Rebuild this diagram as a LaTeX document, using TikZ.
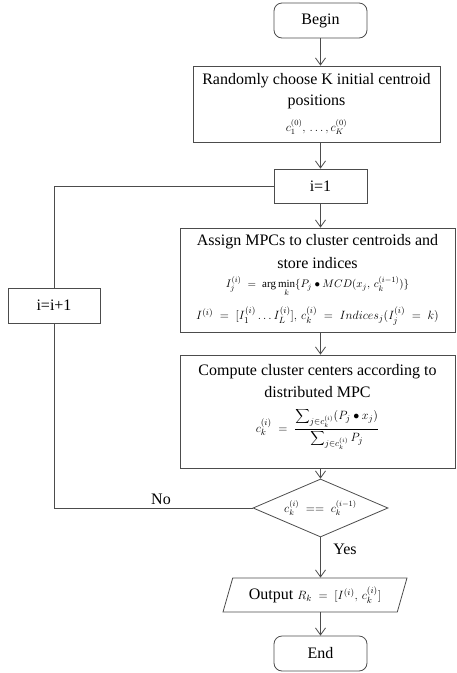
\documentclass[tikz,border=0pt]{standalone}
\usepackage{fontspec}
\setmainfont{Liberation Serif}
\usetikzlibrary{arrows.meta,shapes.geometric}
\tikzset{
  line/.style={draw=black!70, line width=0.8pt},
  arr/.style={line, -{Straight Barb[length=7pt,width=10pt]}},
  term/.style={line, rounded corners=8pt, minimum width=93pt, minimum height=35pt, inner sep=0pt, font=\fontsize{16}{18}\selectfont},
  proc/.style={line, inner sep=0pt, align=center, font=\fontsize{16}{18}\selectfont},
  dec/.style={line, diamond, aspect=2.3, minimum width=135pt, minimum height=58pt, inner sep=0pt},
  io/.style={line, trapezium, trapezium left angle=60, trapezium right angle=120, trapezium stretches body, minimum width=184pt, minimum height=34pt, inner sep=0pt, font=\fontsize{16}{18}\selectfont},
  lbl/.style={font=\fontsize{16}{18}\selectfont, inner sep=0pt}
}
\begin{document}
\begin{tikzpicture}[x=1pt,y=-1pt]
\useasboundingbox (0,0) rectangle (457,673);
\node[term] (begin) at (320.5,20.5) {Begin};
\node[proc, minimum width=247pt, minimum height=76pt] (box1) at (316.5,104) {};
\node[lbl] (t1a) at (316.5,81) {Randomly choose K initial centroid};
\node[lbl] (t1b) at (316.5,102) {positions};
\node[lbl, font=\fontsize{12}{13}\selectfont] (t1c) at (316.5,127) {$c_1^{(0)},\,.\,.\,.\,,c_K^{(0)}$};
\node[proc, minimum width=93pt, minimum height=34pt] (i1) at (320.5,186) {i=1};
\node[proc, minimum width=275pt, minimum height=104pt] (box2) at (317.5,280) {};
\node[lbl] (t2a) at (317.5,242) {Assign MPCs to cluster centroids and};
\node[lbl] (t2b) at (317.5,263) {store indices};
\node[lbl, font=\fontsize{11}{12}\selectfont] (t2c) at (317.5,286) {$I_j^{(i)}\;=\;\arg\min\limits_k\{P_j\bullet MCD(x_j,\,c_k^{(i-1)})\}$};
\node[lbl, font=\fontsize{12.5}{14}\selectfont] (t2d) at (317.5,316) {$I^{(i)}\;=\;[I_1^{(i)}\ldots I_L^{(i)}],\,c_k^{(i)}\;=\;Indices_j(I_j^{(i)}\;=\;k)$};
\node[proc, minimum width=275pt, minimum height=113pt] (box3) at (317.5,411.5) {};
\node[lbl] (t3a) at (317.5,372) {Compute cluster centers according to};
\node[lbl] (t3b) at (317.5,392) {distributed MPC};
\node[lbl, font=\fontsize{13}{14}\selectfont] (t3c) at (317.5,429) {$\displaystyle c_k^{(i)}\;=\;\frac{\displaystyle\sum\nolimits_{j\in c_k^{(i)}}(P_j\bullet x_j)}{\displaystyle\sum\nolimits_{j\in c_k^{(i)}}P_j}$};
\node[dec] (dec) at (320.5,508) {\fontsize{11.5}{13}\selectfont$c_k^{(i)}\;==\;c_k^{(i-1)}$};
\node[io] (out) at (315,595) {Output \fontsize{13}{15}\selectfont$R_k\;=\;[I^{(i)},\,c_k^{(i)}]$};
\node[term] (end) at (320.5,653.5) {End};
\node[proc, minimum width=92pt, minimum height=35pt] (inc) at (54,305.5) {i=i+1};
\node[lbl] (no) at (161,499) {No};
\node[lbl] (yes) at (345,549) {Yes};
\draw[arr] (begin.south) -- (begin.south |- box1.north);
\draw[arr] (begin.south |- box1.south) -- (i1.north);
\draw[arr] (i1.south) -- (i1.south |- box2.north);
\draw[arr] (i1.south |- box2.south) -- (i1.south |- box3.north);
\draw[arr] (i1.south |- box3.south) -- (dec.north);
\draw[arr] (dec.south) -- (dec.south |- out.north);
\draw[arr] (dec.south |- out.south) -- (end.north);
\draw[line] (dec.west) -| (inc.south);
\draw[line] (inc.north) |- (i1.west);
\end{tikzpicture}
\end{document}
